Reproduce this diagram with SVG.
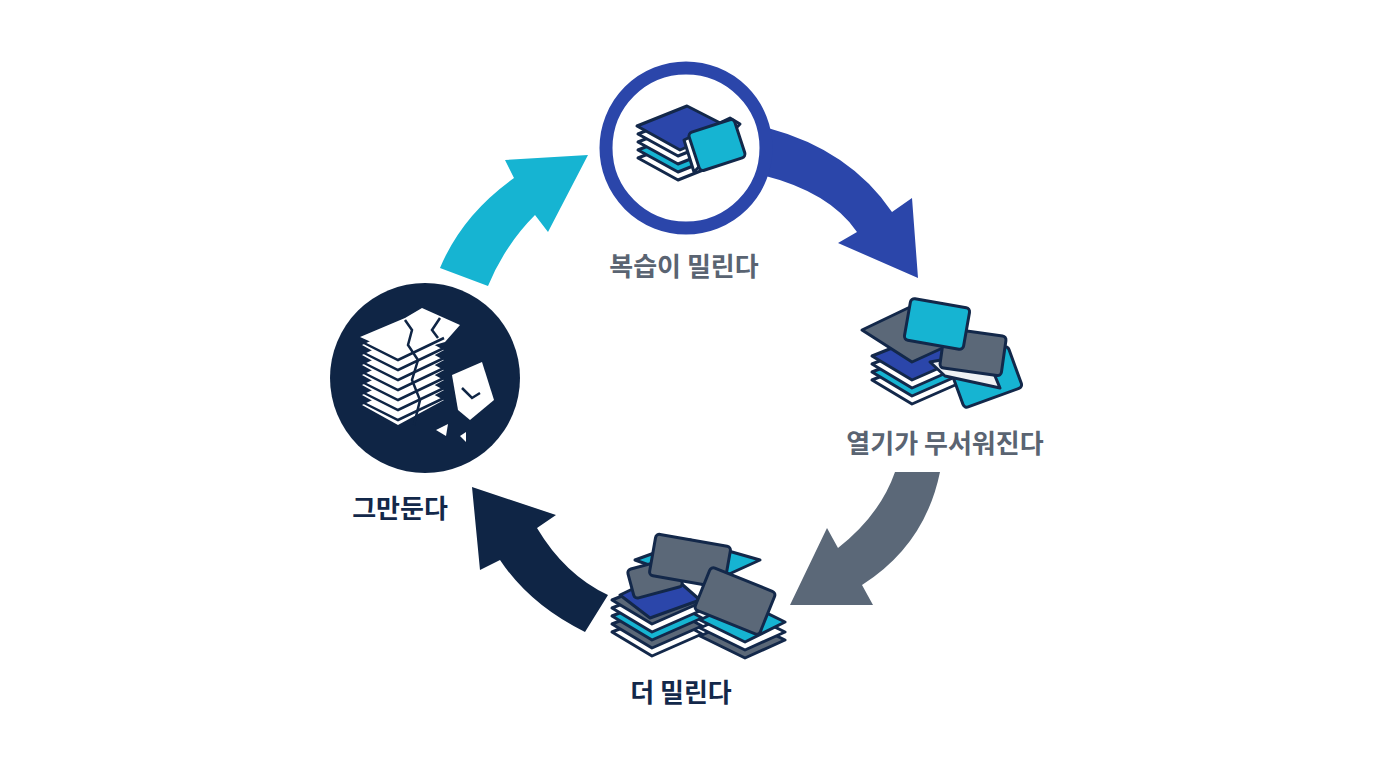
<svg xmlns="http://www.w3.org/2000/svg" width="1376" height="768" viewBox="0 0 1376 768">
<style>
.c{stroke:#13284A;stroke-width:3;stroke-linejoin:round}
.b{fill:#2B46AA}.y{fill:#16B4D2}.g{fill:#5B6878}.w{fill:#fff}.lw{fill:#EEF1F4}
.lbl{font-family:"Noto Sans CJK KR","Noto Sans",sans-serif;font-weight:700;font-size:26px;text-anchor:middle}
</style>
<rect width="1376" height="768" fill="#fff"/>
<g id="connectors">
<path d="M768,128 Q850,150 892,212 L912,198 L918,278 L838,243 L857,232 Q830,192 762,175 Z" fill="#2B46AA"/>
<path d="M895,472 L940,472 Q925,545 862,585 L873,605 L790,605 L827,528 L838,548 Q880,515 895,472 Z" fill="#5B6878"/>
<path d="M608,595 L585,632 Q530,605 500,560 L480,570 L472,487 L556,515 L537,528 Q565,575 608,595 Z" fill="#0F2545"/>
<path d="M488,286 L440,268 Q462,215 514,178 L505,160 L588,155 L548,232 L535,215 Q505,245 488,286 Z" fill="#16B4D2"/>
</g>
<g id="node1">
<circle cx="686" cy="148" r="80" fill="#fff" stroke="#2B46AA" stroke-width="13"/>
<polygon class="c w" points="638,158 688,138 728,160 678,180"/>
<polygon class="c y" points="638,150 688,130 728,152 678,172"/>
<polygon class="c w" points="638,142 688,122 728,144 678,164"/>
<polygon class="c w" points="638,134 688,114 728,136 678,156"/>
<polygon class="c b" points="637,126 687,106 730,128 680,150"/>
<polygon class="c w" points="684,140 730,118 740,124 694,172"/>
<rect class="c y" x="693" y="125" width="48" height="40" rx="4" transform="rotate(-18 717 145)"/>
<text class="lbl" x="684" y="276" fill="#5A6472">복습이 밀린다</text>
</g>
<g id="node2">
<polygon class="c w" points="872,380 922,360 962,382 912,404"/>
<polygon class="c y" points="872,372 922,352 962,374 912,396"/>
<polygon class="c w" points="872,364 922,344 962,366 912,388"/>
<polygon class="c b" points="872,356 922,336 962,358 912,380"/>
<rect class="c y" x="955" y="355" width="62" height="44" rx="4" transform="rotate(-20 986 377)"/>
<polygon class="c lw" points="930,362 985,352 1000,388 945,376"/>
<polygon class="c g" points="862,330 908,308 960,340 912,362"/>
<rect class="c g" x="942" y="332" width="62" height="40" rx="4" transform="rotate(8 973 352)"/>
<rect class="c y" x="907" y="303" width="60" height="42" rx="4" transform="rotate(10 937 324)"/>
<text class="lbl" x="945" y="453" fill="#5A6472">열기가 무서워진다</text>
</g>
<g id="node3">
<polygon class="c w" points="612,632 662,612 702,634 652,656"/>
<polygon class="c g" points="612,624 662,604 702,626 652,648"/>
<polygon class="c y" points="612,616 662,596 702,618 652,640"/>
<polygon class="c w" points="612,608 662,588 702,610 652,632"/>
<polygon class="c g" points="612,600 662,580 702,602 652,624"/>
<polygon class="c g" points="700,636 740,618 785,640 745,658"/>
<polygon class="c w" points="700,628 740,610 785,632 745,650"/>
<polygon class="c y" points="700,620 740,600 785,622 745,642"/>
<polygon class="c b" points="620,595 668,572 700,600 650,618"/>
<polygon class="c y" points="635,560 690,540 760,560 705,585"/>
<rect class="c g" x="630" y="563" width="50" height="30" rx="4" transform="rotate(-15 655 578)"/>
<rect class="c g" x="652" y="540" width="76" height="42" rx="4" transform="rotate(10 690 561)"/>
<rect class="c g" x="700" y="578" width="70" height="46" rx="4" transform="rotate(22 735 601)"/>
<text class="lbl" x="681" y="702" fill="#13284A">더 밀린다</text>
</g>
<g id="node4">
<circle cx="425" cy="378" r="95" fill="#0F2545"/>
<g fill="#fff">
<polygon points="362,405 410,382 444,400 398,425"/>
<polygon points="362,395 410,372 444,390 398,415"/>
<polygon points="362,385 410,362 444,380 398,405"/>
<polygon points="362,375 410,352 444,370 398,395"/>
<polygon points="362,365 410,342 444,360 398,385"/>
<polygon points="362,355 410,332 444,350 398,375"/>
<polygon points="362,345 410,322 444,340 398,365"/>
<polygon points="360,337 405,318 422,308 460,325 445,342 400,355"/>
<polygon points="452,375 482,362 494,400 470,420 458,410"/>
<polygon points="436,430 448,424 446,436"/>
<polygon points="460,436 466,432 466,442"/>
</g>
<g stroke="#0F2545" stroke-width="2.5" fill="none">
<path d="M362,342 L398,360 L444,338"/><path d="M362,352 L398,370 L444,348"/><path d="M362,362 L398,380 L444,358"/>
<path d="M362,372 L398,390 L444,368"/><path d="M362,382 L398,400 L444,378"/><path d="M362,392 L398,410 L444,388"/><path d="M362,402 L398,420 L444,398"/>
<path d="M405,320 L412,330 L408,345 L418,360 L412,380 L420,400 L414,425"/>
<path d="M440,318 L432,330 L438,338"/>
<path d="M462,388 L472,398 L480,393"/>
</g>
<text class="lbl" x="400" y="518" fill="#13284A">그만둔다</text>
</g>
</svg>
